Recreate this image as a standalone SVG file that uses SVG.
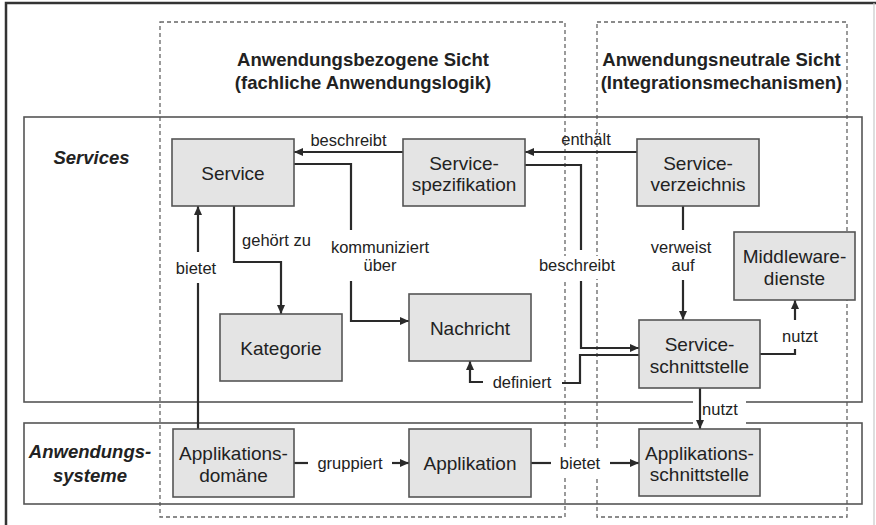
<svg xmlns="http://www.w3.org/2000/svg" width="876" height="525" viewBox="0 0 876 525">
<defs>
<marker id="arr" markerWidth="9" markerHeight="8" refX="9" refY="4" orient="auto" markerUnits="userSpaceOnUse">
<path d="M0,0 L9,4 L0,8 z" fill="#2a2a2a"/>
</marker>
<style>
.frame{fill:none;stroke:#333;}
.dash{fill:none;stroke:#666;stroke-width:1.3;stroke-dasharray:4 3;}
.band{fill:none;stroke:#555;stroke-width:1.6;}
.node rect{fill:#e4e4e4;stroke:#555;stroke-width:1.6;}
.node text{font-family:"Liberation Sans",Arial,sans-serif;font-size:19px;fill:#222;text-anchor:middle;}
.conn path{fill:none;stroke:#2a2a2a;stroke-width:2.2;}
.lbl{font-family:"Liberation Sans",Arial,sans-serif;font-size:16.5px;fill:#222;text-anchor:middle;}
.title{font-family:"Liberation Sans",Arial,sans-serif;font-size:18.5px;font-weight:bold;fill:#222;text-anchor:middle;}
.layer{font-family:"Liberation Sans",Arial,sans-serif;font-size:18.5px;font-weight:bold;font-style:italic;fill:#222;text-anchor:middle;}
.bg{fill:#fff;stroke:none;}
</style>
</defs>
<rect width="876" height="525" fill="#fff"/>
<!-- outer frame -->
<path class="frame" d="M6,525 V3 H876" stroke-width="2.5"/>
<path d="M874,3 V525" stroke="#c8c8c8" stroke-width="1.2" fill="none"/>
<!-- views -->
<rect class="dash" x="160" y="22" width="405" height="495"/>
<rect class="dash" x="597" y="22" width="250" height="495"/>
<text class="title" x="363" y="66">Anwendungsbezogene Sicht</text>
<text class="title" x="363" y="89">(fachliche Anwendungslogik)</text>
<text class="title" x="721.5" y="66">Anwendungsneutrale Sicht</text>
<text class="title" x="721.5" y="89">(Integrationsmechanismen)</text>
<!-- layers -->
<rect class="band" x="24" y="117" width="838" height="285"/>
<rect class="band" x="24" y="423" width="838" height="81"/>
<text class="layer" x="91.5" y="164">Services</text>
<text class="layer" x="90" y="458">Anwendungs-</text>
<text class="layer" x="90" y="482">systeme</text>
<!-- label backgrounds -->
<rect class="bg" x="693" y="399" width="53" height="27"/>
<rect class="bg" x="537" y="256" width="81" height="23"/>
<rect class="bg" x="556" y="449" width="50" height="28"/>
<!-- connectors -->
<g id="connectors" class="conn">
<path d="M403,152 H294" marker-end="url(#arr)"/>
<path d="M294,164 H351 V230"/>
<path d="M351,281 V321 H409" marker-end="url(#arr)"/>
<path d="M234,206 V262 H281 V314" marker-end="url(#arr)"/>
<path d="M198,429 V283"/>
<path d="M198,252 V206" marker-end="url(#arr)"/>
<path d="M637,152 H525" marker-end="url(#arr)"/>
<path d="M525,165 H581 V250"/>
<path d="M581,281 V348 H639" marker-end="url(#arr)"/>
<path d="M639,355 H580 V383 H562"/>
<path d="M483,382 H470 V361" marker-end="url(#arr)"/>
<path d="M683,205 V230"/>
<path d="M683,280 V320" marker-end="url(#arr)"/>
<path d="M760,354 H795 V349"/>
<path d="M795,320 V300" marker-end="url(#arr)"/>
<path d="M700,388 V429" marker-end="url(#arr)"/>
<path d="M294,463 H308"/>
<path d="M392,463 H409" marker-end="url(#arr)"/>
<path d="M531,463 H551"/>
<path d="M610,463 H639" marker-end="url(#arr)"/>
</g>
<g id="labels">
<text class="lbl" x="348.5" y="146">beschreibt</text>
<text class="lbl" x="586" y="145">enthält</text>
<text class="lbl" x="276.5" y="246">gehört zu</text>
<text class="lbl" x="380" y="253">kommuniziert</text>
<text class="lbl" x="380" y="271">über</text>
<text class="lbl" x="196" y="274">bietet</text>
<text class="lbl" x="577" y="271">beschreibt</text>
<text class="lbl" x="681" y="253">verweist</text>
<text class="lbl" x="683" y="271">auf</text>
<text class="lbl" x="522" y="388">definiert</text>
<text class="lbl" x="800" y="342">nutzt</text>
<text class="lbl" x="720" y="415">nutzt</text>
<text class="lbl" x="350" y="469">gruppiert</text>
<text class="lbl" x="580" y="469">bietet</text>
</g>
<!-- nodes -->
<g id="service" class="node"><rect x="172" y="139" width="122" height="67"/><text x="233" y="179.5">Service</text></g>
<g id="servicespezifikation" class="node"><rect x="403" y="139" width="122" height="67"/><text x="464" y="169.5">Service-</text><text x="464" y="191">spezifikation</text></g>
<g id="serviceverzeichnis" class="node"><rect x="637" y="139" width="122" height="67"/><text x="698" y="169.5">Service-</text><text x="698" y="191">verzeichnis</text></g>
<g id="middlewaredienste" class="node"><rect x="734" y="232" width="121" height="68"/><text x="794.5" y="263">Middleware-</text><text x="794.5" y="284.5">dienste</text></g>
<g id="kategorie" class="node"><rect x="220" y="314" width="122" height="67"/><text x="281" y="354.5">Kategorie</text></g>
<g id="nachricht" class="node"><rect x="409" y="294" width="122" height="67"/><text x="470" y="334.5">Nachricht</text></g>
<g id="serviceschnittstelle" class="node"><rect x="639" y="320" width="121" height="68"/><text x="699.5" y="351">Service-</text><text x="699.5" y="372.5">schnittstelle</text></g>
<g id="applikationsdomaene" class="node"><rect x="173" y="429" width="121" height="68"/><text x="233.5" y="460">Applikations-</text><text x="233.5" y="481.5">domäne</text></g>
<g id="applikation" class="node"><rect x="409" y="429" width="122" height="68"/><text x="470" y="469.5">Applikation</text></g>
<g id="applikationsschnittstelle" class="node"><rect x="639" y="429" width="121" height="67"/><text x="699.5" y="459.5">Applikations-</text><text x="699.5" y="481">schnittstelle</text></g>
</svg>
